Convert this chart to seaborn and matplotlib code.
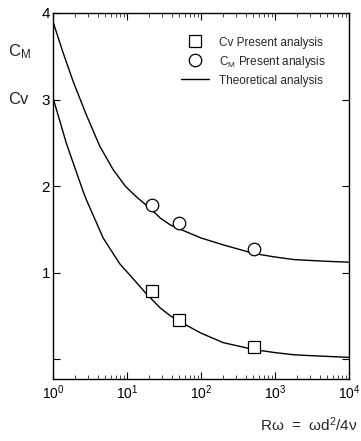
import matplotlib
matplotlib.use("Agg")
import matplotlib.pyplot as plt
import seaborn as sns
import pandas as pd
import numpy as np
from matplotlib.ticker import LogLocator, NullFormatter
from matplotlib.lines import Line2D

# ---- data ----
cm_theory_x = [1, 1.37, 1.87, 2.83, 4.29, 6.5, 9.46, 13.6, 20.7, 28.2, 38.6,
               52.7, 100, 200, 520, 1000, 1812, 3000, 5136, 10000]
cm_theory_y = [3.90, 3.54, 3.21, 2.82, 2.46, 2.19, 2.00, 1.87, 1.74, 1.63, 1.55,
               1.50, 1.40, 1.32, 1.22, 1.18, 1.15, 1.14, 1.13, 1.12]

cv_theory_x = [1, 1.52, 2.55, 2.83, 4.76, 8.0, 11.5, 16.8, 19.5, 28.2, 38.6, 50, 100, 200,
               520, 1000, 1812, 3000, 10000]
cv_theory_y = [3.02, 2.49, 1.94, 1.84, 1.40, 1.10, 0.95, 0.79, 0.73, 0.59, 0.50, 0.44, 0.30,
               0.19, 0.11, 0.075, 0.05, 0.04, 0.02]

cv_present_x = [22, 51, 520]
cv_present_y = [0.79, 0.45, 0.145]

cm_present_x = [22, 51, 520]
cm_present_y = [1.78, 1.57, 1.27]

xtick_vals = [1, 10, 100, 1000, 10000]
ytick_vals = [0, 1, 2, 3, 4]
ytick_labels = ["", "1", "2", "3", "4"]

legend_labels = ["Cv Present analysis", r"C$_\mathregular{M}$ Present analysis", "Theoretical analysis"]

# ---- style ----
sns.set_style("ticks")
plt.rcParams["font.family"] = ["Liberation Sans", "DejaVu Sans"]
plt.rcParams["mathtext.fontset"] = "custom"
plt.rcParams["mathtext.rm"] = "Liberation Sans"
plt.rcParams["mathtext.it"] = "Liberation Sans:italic"

fig = plt.figure(figsize=(3.61, 4.41), dpi=100)
ax = fig.add_axes([53/361, 1-379/441, (349-53)/361, (379-13)/441])

df_cm = pd.DataFrame({"x": cm_theory_x, "y": cm_theory_y})
df_cv = pd.DataFrame({"x": cv_theory_x, "y": cv_theory_y})
sns.lineplot(data=df_cm, x="x", y="y", ax=ax, color="black", lw=1.0)
sns.lineplot(data=df_cv, x="x", y="y", ax=ax, color="black", lw=1.0)

ax.plot(cv_present_x, cv_present_y, ls="none", marker="s", ms=8.5, mfc="white",
        mec="black", mew=0.9, zorder=5)
ax.plot(cm_present_x, cm_present_y, ls="none", marker="o", ms=9, mfc="white",
        mec="black", mew=0.9, zorder=5)

ax.set_xscale("log")
ax.set_xlim(1, 10000)
ax.set_ylim(-0.23, 4)
ax.set_xticks(xtick_vals)
ax.xaxis.set_minor_locator(LogLocator(base=10, subs=np.arange(2, 10), numticks=20))
ax.xaxis.set_minor_formatter(NullFormatter())
ax.set_yticks(ytick_vals)
ax.set_yticklabels(ytick_labels)
ax.set_xlabel("")
ax.set_ylabel("")

ax.tick_params(axis="both", which="major", direction="in", top=True, right=True,
               length=5, width=0.8, pad=3, colors="black")
ax.tick_params(axis="x", which="major", labelsize=10)
ax.tick_params(axis="x", which="minor", direction="in", top=True, bottom=True,
               length=3, width=0.6)
ax.tick_params(axis="y", labelsize=11, pad=2)
for s in ax.spines.values():
    s.set_linewidth(1.0)
    s.set_color("black")

# legend
handles = [
    Line2D([], [], ls="none", marker="s", ms=8.5, mfc="white", mec="black", mew=0.9),
    Line2D([], [], ls="none", marker="o", ms=9, mfc="white", mec="black", mew=0.9),
    Line2D([], [], color="black", lw=1.0),
]
ax.legend(handles, legend_labels, loc="upper left", frameon=False, fontsize=8.5,
          handlelength=2.37, handletextpad=0.85, labelspacing=0.42,
          bbox_to_anchor=(170/361, 1-26/441), bbox_transform=fig.transFigure)

# axis labels
fig.text(8/361, 1-52/441, r"C$_\mathregular{M}$", fontsize=12, va="center", ha="left")
fig.text(8/361, 1-99/441, "Cv", fontsize=12, va="center", ha="left")
fig.text(358/361, 1-425/441, r"Rω  =  ωd$^\mathregular{2}$/4ν", fontsize=11,
         va="center", ha="right")

fig.savefig("out.png", dpi=100)
